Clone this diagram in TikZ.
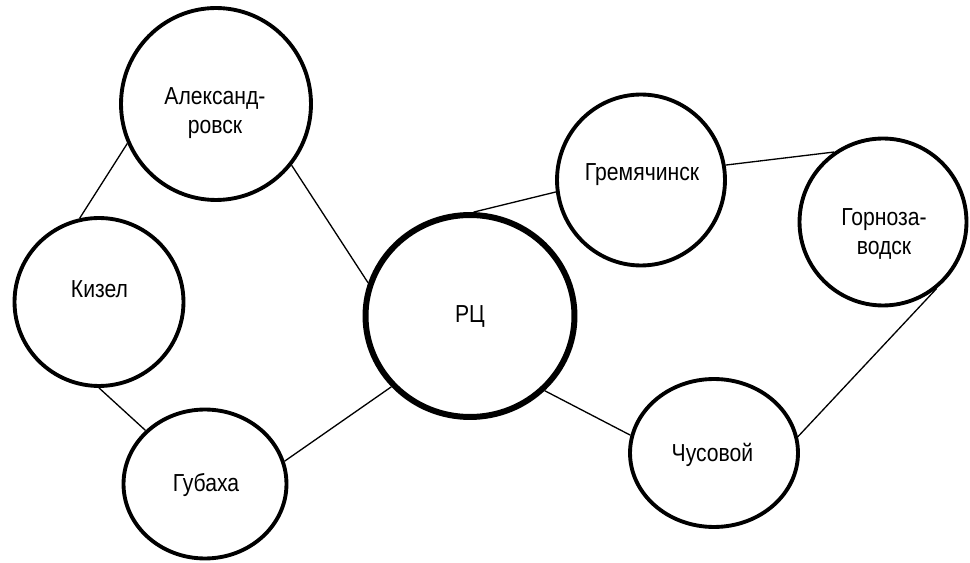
\documentclass[tikz,border=0pt]{standalone}
\usepackage{fontspec}
\setmainfont{Liberation Sans}[FakeStretch=0.86]
\usetikzlibrary{shapes.geometric}
\tikzset{
	town/.style={draw, ellipse, line width=2.2pt, inner sep=0pt},
	centre/.style={town, line width=3.4pt},
	townname/.style={anchor=base, inner sep=0pt, align=center,
		font=\fontsize{14}{17}\selectfont},
	link/.style={line width=0.75pt}
}
\begin{document}
\begin{tikzpicture}[x=0.02cm,y=-0.02cm]
	\useasboundingbox (0,0) rectangle (970,563);
	% towns
	\node[town, minimum width=3.80cm, minimum height=3.84cm] (alex) at (216,104) {};
	\node[town, minimum width=3.38cm, minimum height=3.36cm] (kiz) at (99,302) {};
	\node[town, minimum width=3.26cm, minimum height=2.98cm] (gub) at (205,484) {};
	\node[centre, minimum width=4.18cm, minimum height=4.04cm] (rc) at (470,316) {};
	\node[town, minimum width=3.36cm, minimum height=3.42cm] (grem) at (641,180) {};
	\node[town, minimum width=3.34cm, minimum height=3.34cm] (gorn) at (883,222) {};
	\node[town, minimum width=3.36cm, minimum height=2.96cm] (chus) at (714,453) {};
	% names (base = last line)
	\node[townname] (alexname) at (215,134) {Александ-\\ровск};
	\node[townname] (kizname) at (99.5,298) {Кизел};
	\node[townname] (gubname) at (206,492) {Губаха};
	\node[townname] (rcname) at (470,323) {РЦ};
	\node[townname] (gremname) at (642,181) {Гремячинск};
	\node[townname] (gornname) at (884,255) {Горноза-\\водск};
	\node[townname] (chusname) at (712.5,462) {Чусовой};
	% links
	\draw[link] (alex.204) -- (kiz.103);
	\draw[link] (alex.321) -- (rc.162);
	\draw[link] (kiz.270) -- (gub.138);
	\draw[link] (gub.16) -- (rc.222);
	\draw[link] (rc.88) -- (grem.188);
	\draw[link] (grem.10) -- (gorn.125);
	\draw[link] (rc.315) -- (chus.168);
	\draw[link] (chus.11) -- (gorn.309);
\end{tikzpicture}
\end{document}
